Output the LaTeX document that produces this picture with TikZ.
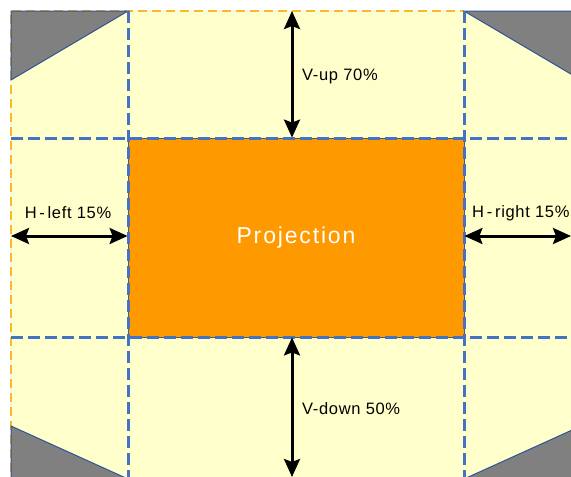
\documentclass[tikz,border=0pt]{standalone}
\usepackage{fontspec}
\setmainfont{Liberation Sans}
\newfontfamily\lblfont[LetterSpace=4]{Liberation Sans}
\newfontfamily\projfont[LetterSpace=8]{Liberation Sans}
\usetikzlibrary{positioning, arrows.meta}
\definecolor{paleyellow}{HTML}{FFFFCC}
\definecolor{projorange}{HTML}{FF9900}
\definecolor{gridblue}{HTML}{4472C4}
\definecolor{edgeorange}{HTML}{FDB72C}
\definecolor{cornergray}{HTML}{808080}
\definecolor{cornerblue}{HTML}{2F5597}

\begin{document}
\begin{tikzpicture}[x=1pt, y=-1pt, >={Stealth[length=18pt, width=16pt, inset=3pt]},
  proj/.style={fill=projorange, draw=black!65, line width=0.8pt,
               minimum width=336pt, minimum height=199pt, inner sep=0pt,
               text=white, font=\projfont\fontsize{23}{27}\selectfont},
  grid/.style={draw=gridblue, line width=3pt, dash pattern=on 12pt off 5pt},
  edge/.style={draw=edgeorange, line width=2.6pt, dash pattern=on 9pt off 5pt},
  corner/.style={fill=cornergray, draw=cornerblue, line width=1pt},
  dim/.style={<->, line width=3pt, black},
  lbl/.style={font=\lblfont\fontsize{16.5}{19}\selectfont, inner sep=0pt}]
\useasboundingbox (0,0) rectangle (571,477);
\clip (0,0) rectangle (571,477);
% Usable area and its outer edge.
\fill[paleyellow] (11,11) rectangle (600,500);
\draw[edge] (11,500) -- (11,11) -- (464,11);
% Cut-off corners.
\filldraw[corner] (11,11) -- (128,11) -- (11,80) -- cycle;
\filldraw[corner] (464,11) -- (581,11) -- (581,80) -- cycle;
\filldraw[corner] (11,426) -- (128,479) -- (11,479) -- cycle;
\filldraw[corner] (581,426) -- (464,479) -- (581,479) -- cycle;
% Projected image.
\node[proj] (proj) at (296,237.5) {Projection};
% Shift limits.
\draw[grid] (128,11) -- (128,500);
\draw[grid] (464,11) -- (464,500);
\draw[grid] (11,138) -- (600,138);
\draw[grid] (11,337) -- (600,337);
% Arrow ends on the outer edge.
\coordinate (top) at (292,11);
\coordinate (bottom) at (292,477);
\coordinate (left) at (11,236);
\coordinate (right) at (571,236);
\draw[dim] (top) -- (top|-proj.north);
\draw[dim] (proj.south-|bottom) -- (bottom);
\draw[dim] (left) -- (left-|proj.west);
\draw[dim] (proj.east|-right) -- (right);
\node[lbl, anchor=west] (vup) at (302,76) {V-up 70\%};
\node[lbl, anchor=west] (vdown) at (302,409) {V-down 50\%};
\node[lbl] (hleft) at (68,213) {H\,-\,left 15\%};
\node[lbl, anchor=west] (hright) at (472,213) {H\,-\,right 15\%};
\end{tikzpicture}
\end{document}
